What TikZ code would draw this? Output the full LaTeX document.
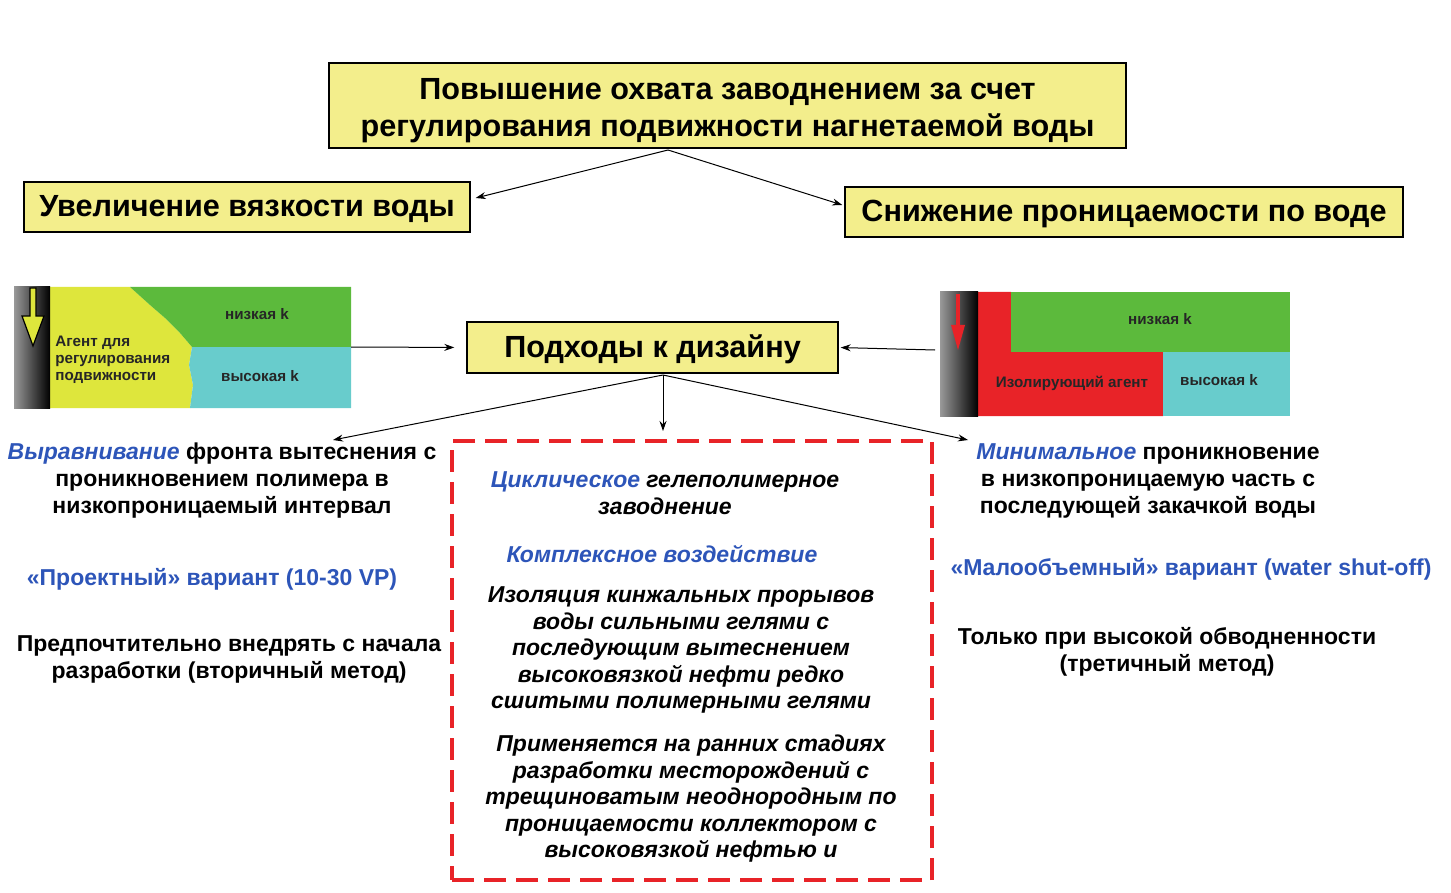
\documentclass[tikz,border=0pt]{standalone}
\usepackage{fontspec}
\setmainfont{Liberation Sans}
\usetikzlibrary{arrows.meta}
\definecolor{boxyellow}{RGB}{243,238,140}
\definecolor{tblue}{RGB}{45,85,185}
\definecolor{lyellow}{RGB}{222,230,60}
\definecolor{lgreen}{RGB}{92,186,60}
\definecolor{lcyan}{RGB}{104,204,204}
\definecolor{rred}{RGB}{232,35,40}

\begin{document}
\begin{tikzpicture}[x=0.5pt,y=-0.5pt,
    ybox/.style={draw=black,line width=0.7pt,fill=boxyellow,align=center,inner sep=0pt,
      font=\fontsize{15.3}{18.5}\selectfont\bfseries},
    onebox/.style={ybox,text height=1.27em},
    txt/.style={align=center,inner sep=0pt,font=\fontsize{11.5}{13.5}\selectfont\bfseries},
    itxt/.style={align=center,inner sep=0pt,font=\fontsize{11.5}{13.25}\selectfont\bfseries\itshape},
    smalltxt/.style={inner sep=0pt,text=black!85,font=\fontsize{7.6}{8.5}\selectfont\bfseries},
    pipe/.style={left color=gray!80,middle color=white,right color=black},
    arr/.style={-{Stealth[length=5pt,width=3.5pt]},line width=0.5pt}]
\fill[white] (0,0) rectangle (1451,893);
\useasboundingbox (0,0) rectangle (1451,893);

% yellow boxes
\node[ybox,minimum width=398.5pt,minimum height=42.5pt] (cover) at (727.5,105.5)
  {\rule{0pt}{15.5pt}Повышение охвата заводнением за счет\\регулирования подвижности нагнетаемой воды};
\node[onebox,minimum width=223pt,minimum height=25pt] (visc) at (247,207) {Увеличение вязкости воды};
\node[onebox,minimum width=279pt,minimum height=25pt] (perm) at (1124,212) {Снижение проницаемости по воде};
\node[onebox,minimum width=185.5pt,minimum height=25.5pt] (design) at (652.5,347.5) {Подходы к дизайну};

\coordinate (fork) at (668,150);
\draw[arr] (fork) -- ([shift={(5,-9)}]visc.east);
\draw[arr] (fork) -- ([shift={(-2,-7)}]perm.west);

% left picture
\fill[lyellow] (50,287) -- (130,287) -- (150,305) -- (165,318) -- (180,333) -- (192,347)
  -- (189,365) -- (193,385) -- (190,408) -- (50,408) -- cycle;
\fill[lgreen] (130,287) -- (351,287) -- (351,347) -- (192,347) -- (180,333) -- (165,318)
  -- (150,305) -- cycle;
\fill[lcyan] (192,347) -- (351,347) -- (351,408) -- (190,408) -- (193,385) -- (189,365) -- cycle;
\shade[pipe] (14,287) rectangle (50,408);
\filldraw[fill=lyellow,draw=black,line width=0.6pt] (30,288) -- (36,288) -- (36,316) -- (44,316)
  -- (33,346) -- (22,316) -- (30,316) -- cycle;
\node[smalltxt] (lowk) at (257,314) {низкая k};
\node[smalltxt,align=left,anchor=west] (agent) at (55,360) {Агент для\\регулирования\\подвижности};
\node[smalltxt] (highk) at (260,376) {высокая k};

% right picture
\fill[rred] (978,292) -- (1011,292) -- (1011,352) -- (1163,352) -- (1163,416) -- (978,416) -- cycle;
\fill[lgreen] (1011,292) rectangle (1290,352);
\fill[lcyan] (1163,352) rectangle (1290,416);
\shade[pipe] (940,292) rectangle (978,416);
\draw[rred,line width=2pt] (958,294) -- (958,328);
\fill[rred] (951,325) -- (965,325) -- (958,350) -- cycle;
\node[smalltxt] (lowk2) at (1160,319) {низкая k};
\node[smalltxt] (isol) at (1072,383) {Изолирующий агент};
\node[smalltxt] (highk2) at (1219,380) {высокая k};

\coordinate (lpic) at (351,347);
\coordinate (rpic) at (935,350);
\draw[arr,shorten >=6pt] (lpic) -- (design.west);
\draw[arr,shorten >=1pt] (rpic) -- (design.east);

% three approaches
\node[draw=rred,line width=2pt,dash pattern=on 11pt off 5pt,minimum width=240pt,
  minimum height=219.5pt] (hybrid) at (692,660.5) {};
\coordinate (dfork) at (663,375);
\coordinate (levelpt) at (333,440);
\coordinate (minpt) at (968,440);
\draw[arr] (dfork) -- (levelpt);
\draw[arr,shorten >=4pt] (dfork) -- (hybrid.north -| dfork);
\draw[arr] (dfork) -- (minpt);

% left column
\node[txt] (level) at (222,481) {\textcolor{tblue}{\itshape Выравнивание} фронта вытеснения с\\
  проникновением полимера в\\низкопроницаемый интервал};
\node[txt,text=tblue] (project) at (212,579) {«Проектный» вариант (10-30 VP)};
\node[txt] (second) at (229,659.5) {Предпочтительно внедрять с начала\\разработки (вторичный метод)};

% middle column
\node[itxt] (cyclic) at (665,493) {\textcolor{tblue}{Циклическое} гелеполимерное\\заводнение};
\node[itxt,text=tblue] (complex) at (662,554) {Комплексное воздействие};
\node[itxt] (isolate) at (681,650) {Изоляция кинжальных прорывов\\воды сильными гелями с\\
  последующим вытеснением\\высоковязкой нефти редко\\сшитыми полимерными гелями};
\node[itxt] (early) at (691,799) {Применяется на ранних стадиях\\разработки месторождений с\\
  трещиноватым неоднородным по\\проницаемости коллектором с\\высоковязкой нефтью и};

% right column
\node[txt] (minimal) at (1148,481) {\textcolor{tblue}{\itshape Минимальное} проникновение\\
  в низкопроницаемую часть с\\последующей закачкой воды};
\node[txt,text=tblue] (small) at (1191,569) {«Малообъемный» вариант (water shut-off)};
\node[txt] (third) at (1167,652) {Только при высокой обводненности\\(третичный метод)};
\end{tikzpicture}
\end{document}
